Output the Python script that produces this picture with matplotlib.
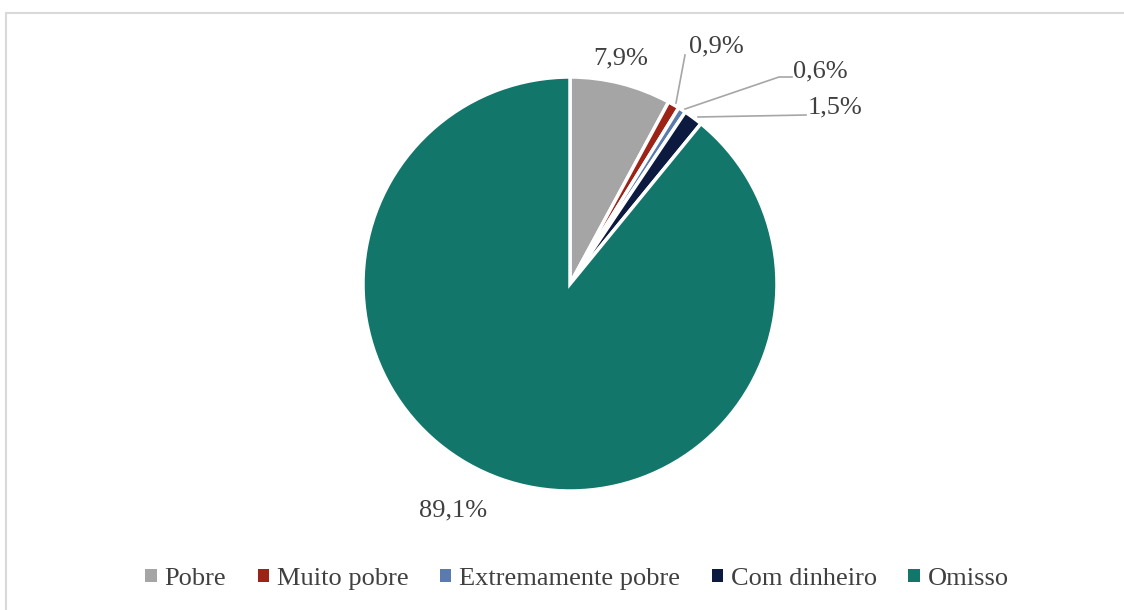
import matplotlib
matplotlib.use("Agg")
import matplotlib.pyplot as plt
from matplotlib.patches import Rectangle, Patch

categories = ["Pobre", "Muito pobre", "Extremamente pobre", "Com dinheiro", "Omisso"]
values = [7.9, 0.9, 0.6, 1.5, 89.1]
labels = ["7,9%", "0,9%", "0,6%", "1,5%", "89,1%"]
colors = ["#A5A5A5", "#9E2317", "#5B7BAE", "#0C1A40", "#12766B"]

plt.rcParams['font.family'] = ['Liberation Serif', 'DejaVu Serif']
W, H = 1124, 610
fig = plt.figure(figsize=(W / 100, H / 100), dpi=100)

# outer frame
fig.patches.append(Rectangle((6 / W, -0.1), 1.2, (H - 13) / H + 0.1, transform=fig.transFigure,
                             fill=False, edgecolor="#D9D9D9", linewidth=1.5))

cx, cy, r = 570, 284, 207
ax = fig.add_axes([(cx - r) / W, (H - cy - r) / H, 2 * r / W, 2 * r / H])

wedges, _ = ax.pie(values, colors=colors, startangle=90, counterclock=False, radius=1,
                   wedgeprops=dict(edgecolor="white", linewidth=2.5))
ax.set_xlim(-1, 1)
ax.set_ylim(-1, 1)
ax.set_aspect("auto")
ax.axis("off")

def px(x, y):
    return ((x - cx) / r, (cy - y) / r)

tc = "#404040"
fs = 19
# label positions (pixel coords) and leader lines
lab_pos = [(621, 58), (716, 46), (820, 71), (835, 107), (453, 510)]
for lab, (x, y) in zip(labels, lab_pos):
    ax.text(*px(x, y), lab, ha="center", va="center", fontsize=fs, color=tc, clip_on=False)

lc = "#A6A6A6"
lines = [
    [(685, 55), (676, 103)],
    [(792, 77), (779, 77), (685, 109)],
    [(806, 115), (698, 117)],
]
for seg in lines:
    xs, ys = zip(*[px(x, y) for x, y in seg])
    ax.plot(xs, ys, color=lc, linewidth=1.2, clip_on=False)

handles = [Patch(facecolor=c, edgecolor="none") for c in colors]
fig.legend(handles, categories, loc="center", bbox_to_anchor=(577 / W, 1 - 579 / H), ncol=5,
           frameon=False, fontsize=fs, labelcolor=tc, handlelength=0.42, handleheight=0.42,
           handletextpad=0.3, columnspacing=1.2)

fig.savefig("out.png", dpi=100)
